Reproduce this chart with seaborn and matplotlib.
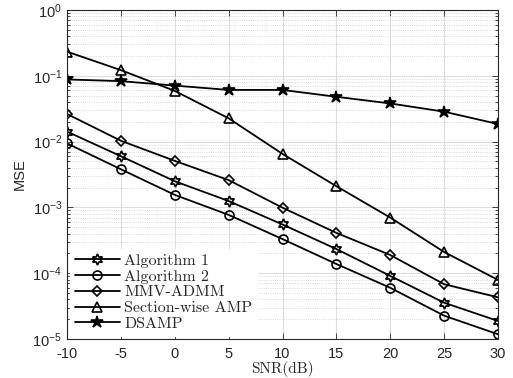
import numpy as np
import pandas as pd
import matplotlib
matplotlib.use('Agg')
import matplotlib.pyplot as plt
import seaborn as sns

# SNR points and MSE curves
snr = [-10, -5, 0, 5, 10, 15, 20, 25, 30]
alg1 = [0.0142, 0.0060, 0.0025, 1.25e-3, 5.5e-4, 2.33e-4, 9.1e-5, 3.56e-5, 1.88e-5]
alg2 = [9.4e-3, 3.8e-3, 1.55e-3, 7.7e-4, 3.3e-4, 1.38e-4, 6.0e-5, 2.26e-5, 1.18e-5]
admm = [0.0263, 0.0103, 0.0051, 0.0026, 9.9e-4, 4.1e-4, 1.89e-4, 6.8e-5, 4.3e-5]
swamp = [0.233, 0.122, 0.059, 0.0226, 6.5e-3, 2.1e-3, 7.0e-4, 2.1e-4, 7.9e-5]
dsamp = [0.088, 0.083, 0.071, 0.061, 0.061, 0.048, 0.038, 0.0285, 0.0185]

names = ['Algorithm 1', 'Algorithm 2', 'MMV-ADMM', 'Section-wise AMP', 'DSAMP']
series = [alg1, alg2, admm, swamp, dsamp]

df = pd.concat([pd.DataFrame({'SNR': snr, 'MSE': s, 'Method': n})
                for n, s in zip(names, series)], ignore_index=True)

sns.set_style('ticks')
plt.rcParams['font.family'] = ['Liberation Sans', 'DejaVu Sans']
plt.rcParams['axes.unicode_minus'] = False

fig = plt.figure(figsize=(5.13, 3.78), dpi=100)
ax = fig.add_axes([0.1306, 0.1032, 0.8402, 0.8703])

markers = {'Algorithm 1': (6, 1, 0), 'Algorithm 2': 'o', 'MMV-ADMM': 'D',
           'Section-wise AMP': '^', 'DSAMP': '*'}
sns.lineplot(data=df, x='SNR', y='MSE', hue='Method', style='Method',
             hue_order=names, style_order=names, markers=markers, dashes=False,
             palette=['black'] * 5, linewidth=1.3, legend=False, ax=ax)

sizes = {'Algorithm 1': 8, 'Algorithm 2': 6.5, 'MMV-ADMM': 5.5,
         'Section-wise AMP': 7.5, 'DSAMP': 9}
lines = ax.lines[:5]
for ln, n in zip(lines, names):
    ln.set_markersize(sizes[n])
    ln.set_markeredgecolor('black')
    ln.set_markeredgewidth(1.2)
    ln.set_markerfacecolor('black' if n == 'DSAMP' else 'none')

ax.set_yscale('log')
ax.set_xlim(-10, 30)
ax.set_ylim(1e-5, 1)
ax.set_xticks(snr)
ax.set_xticklabels([str(v) for v in snr])
ax.set_yticks([1e-5, 1e-4, 1e-3, 1e-2, 1e-1, 1e0])
ax.set_yticklabels([r'$\mathregular{10^{%d}}$' % e for e in range(-5, 1)])

ax.grid(True, which='major', color='#dddddd', linewidth=0.8)
ax.grid(True, which='minor', axis='y', color='#cccccc', linestyle=':', linewidth=0.6)
ax.set_axisbelow(True)
ax.tick_params(which='both', direction='in', top=True, right=True, labelsize=10.5,
               colors='#262626', width=0.6)
ax.tick_params(which='major', length=4)
ax.tick_params(which='minor', length=2)
ax.tick_params(axis='x', pad=6)
for sp in ax.spines.values():
    sp.set_color('#262626')
    sp.set_linewidth(0.8)

ax.set_xlabel('SNR(dB)', family='cmr10', fontsize=11, labelpad=0)
ax.set_ylabel('MSE', fontsize=10.5, labelpad=4)

leg = ax.legend(lines, names, loc='lower left', prop={'family': 'cmr10', 'size': 11.5},
                frameon=True, fancybox=False, framealpha=1, edgecolor='white',
                handlelength=2.8, handletextpad=0.3, labelspacing=0.1,
                borderpad=0.3, borderaxespad=0.2)

plt.savefig('out.png', dpi=100)
